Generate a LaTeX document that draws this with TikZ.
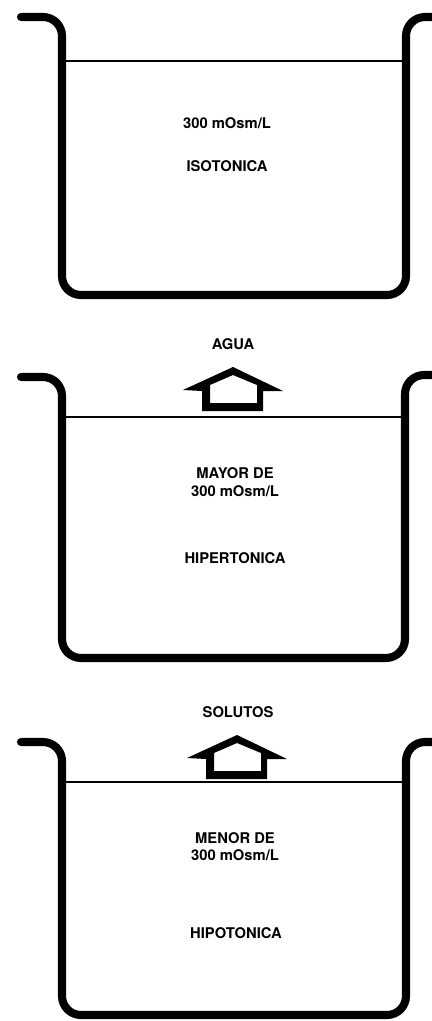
\documentclass[tikz,border=0pt]{standalone}
\usepackage{fontspec}
\setmainfont{TeX Gyre Heros}
\usetikzlibrary{positioning}

\tikzset{
  vaso/.style={line width=4.6pt, line cap=round, rounded corners=0.38cm},
  nivel/.style={line width=0.75pt},
  rotulo/.style={font=\fontsize{8.4}{10}\bfseries, inner sep=0pt},
  flecha/.style={fill=black, even odd rule}
}

\begin{document}
\begin{tikzpicture}[x=0.02cm,y=-0.02cm]
\useasboundingbox (0,0) rectangle (432,1021);

% isotonica
\draw[vaso] (21,17) -- (62,17) -- (62,295) -- (406,295) -- (406,17) -- (450,17);
\draw[nivel] (62,61) -- (406,61);
\node[rotulo] (osm1) at (227,123) {300 mOsm/L};
\node[rotulo] (iso) at (227,166) {ISOTONICA};

% hipertonica
\draw[vaso] (21,377) -- (62,377) -- (62,658) -- (405,658) -- (405,375) -- (450,375);
\draw[nivel] (62,417) -- (405,417);
\fill[flecha] (202,411) -- (202,391) -- (183,390) -- (233,367) -- (283,391) -- (263,391) -- (263,411) -- cycle
  (210,403) -- (210,385) -- (233,375) -- (257,385) -- (257,403) -- cycle;
\node[rotulo] (agua) at (233,344) {AGUA};
\node[rotulo] (mayor) at (235,473) {MAYOR DE};
\node[rotulo] (osm2) at (235,491) {300 mOsm/L};
\node[rotulo] (hiper) at (235,558) {HIPERTONICA};

% hipotonica
\draw[vaso] (21,742) -- (62,742) -- (62,1015) -- (406,1015) -- (406,742) -- (450,742);
\draw[nivel] (62,782) -- (406,782);
\fill[flecha, shift={(4,368)}] (202,411) -- (202,391) -- (183,390) -- (233,367) -- (283,391) -- (263,391) -- (263,411) -- cycle
  (210,403) -- (210,385) -- (233,375) -- (257,385) -- (257,403) -- cycle;
\node[rotulo] (solutos) at (238,712) {SOLUTOS};
\node[rotulo] (menor) at (235,838) {MENOR DE};
\node[rotulo] (osm3) at (235,855) {300 mOsm/L};
\node[rotulo] (hipo) at (236,933) {HIPOTONICA};
\end{tikzpicture}
\end{document}
